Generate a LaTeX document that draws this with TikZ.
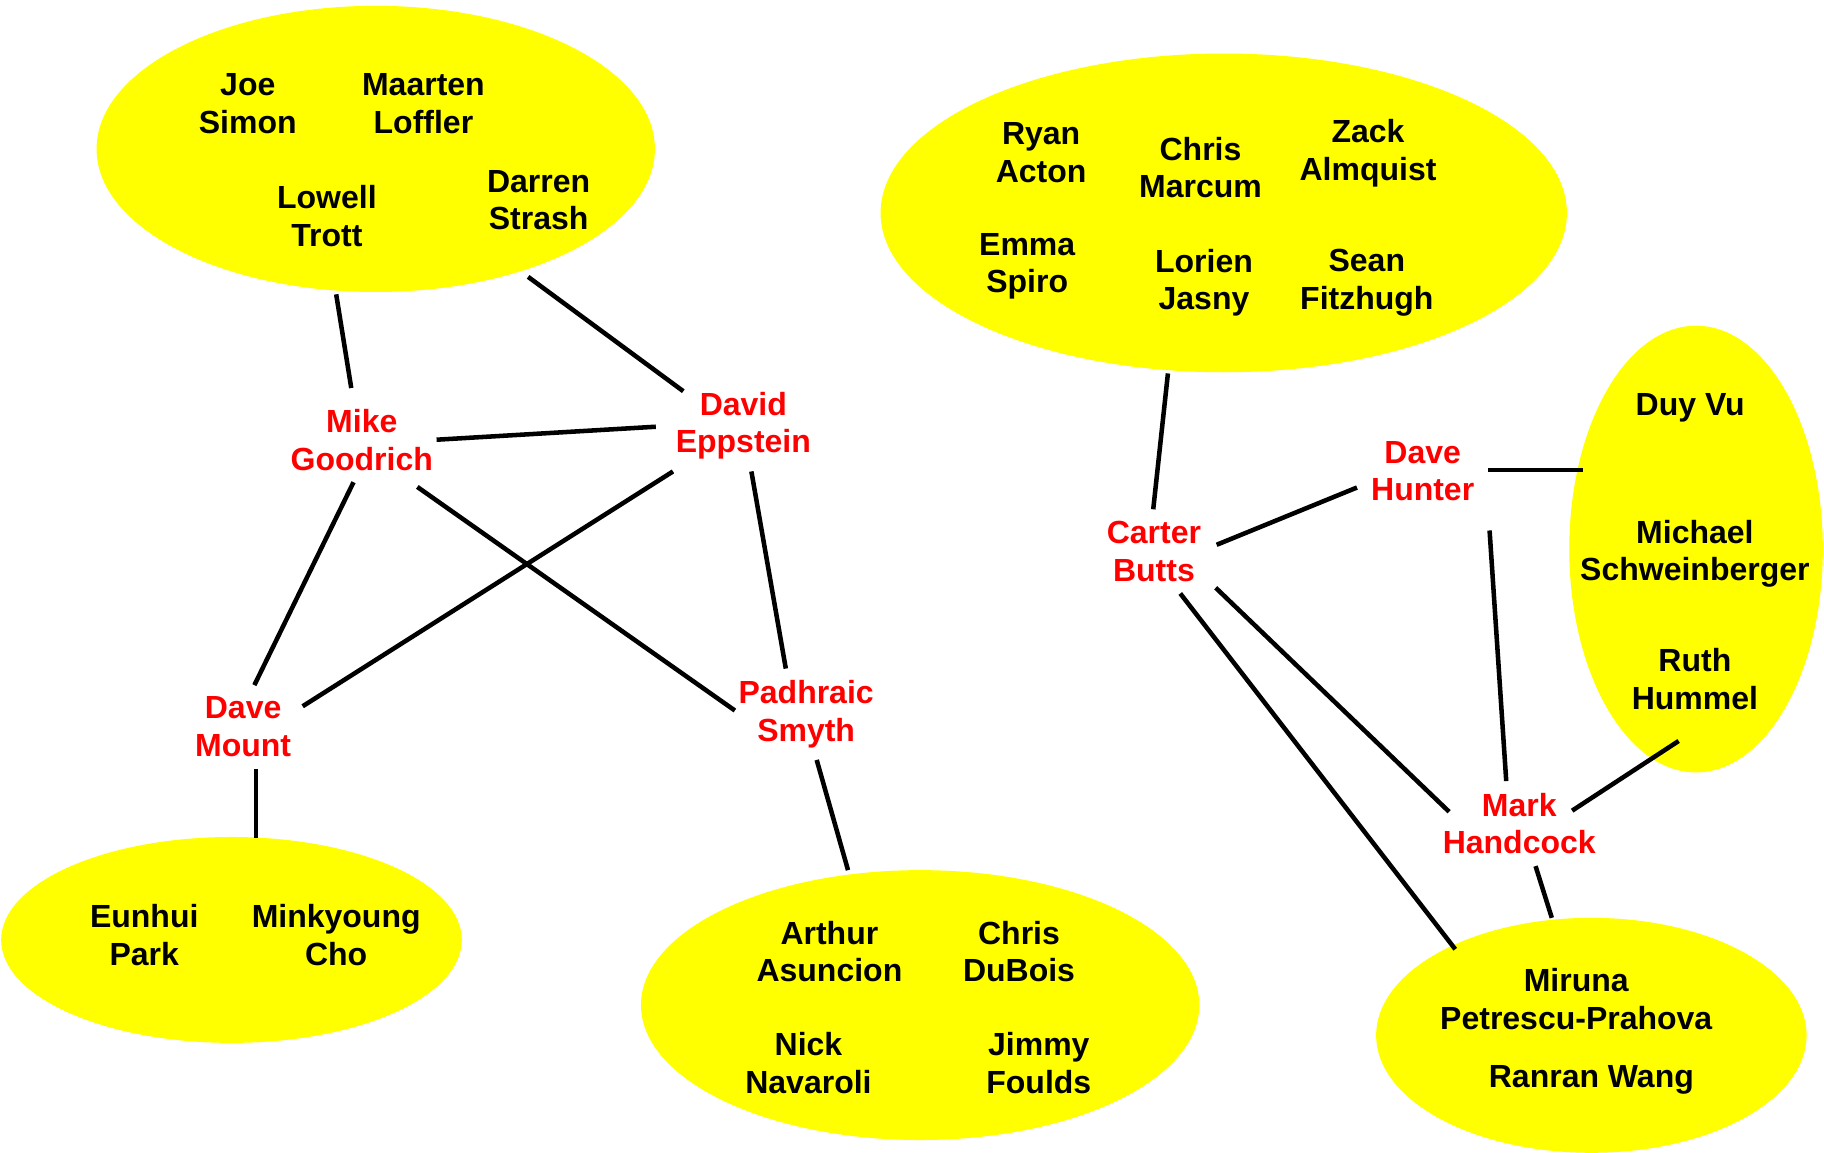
\documentclass[tikz,border=0pt]{standalone}
\usepackage{fontspec}
\setmainfont{Liberation Sans}
\usetikzlibrary{shapes.geometric}
\definecolor{grpyellow}{RGB}{255,255,0}
\definecolor{hubred}{RGB}{255,0,0}
\begin{document}
\begin{tikzpicture}[x=1pt,y=-1pt,
  blob/.style={ellipse,fill=grpyellow,draw=none,inner sep=0pt},
  person/.style={align=center,text=black,font=\bfseries\fontsize{27.5}{32.5}\selectfont},
  hub/.style={align=center,text=hubred,inner xsep=3pt,inner ysep=10pt,font=\bfseries\fontsize{27.5}{32.5}\selectfont},
  link/.style={line width=3.9pt,black}]
\useasboundingbox (0,0) rectangle (1568,991);
% groups
\node[blob,minimum width=480pt,minimum height=246pt] (e1) at (323,128) {};
\node[blob,minimum width=590pt,minimum height=274pt] (e2) at (1052,183) {};
\node[blob,minimum width=218pt,minimum height=384pt] (e3) at (1458,472) {};
\node[blob,minimum width=396pt,minimum height=177pt] (e4) at (199,808) {};
\node[blob,minimum width=480pt,minimum height=232pt] (e5) at (791,864) {};
\node[blob,minimum width=370pt,minimum height=202pt] (e6) at (1368,890) {};
% people
\node[person] (joe) at (213,89) {Joe\\Simon};
\node[person] (maarten) at (364,89) {Maarten\\Loffler};
\node[person] (lowell) at (281,186) {Lowell\\Trott};
\node[person] (darren) at (463,172) {Darren\\Strash};
\node[person] (ryan) at (895,131) {Ryan\\Acton};
\node[person] (chris) at (1032,144) {Chris\\Marcum};
\node[person] (zack) at (1176,132) {Zack\\Almquist};
\node[person] (emma) at (883,229) {Emma\\Spiro};
\node[person] (lorien) at (1035,243) {Lorien\\Jasny};
\node[person] (sean) at (1175,243) {Sean\\Fitzhugh};
\node[person] (duy) at (1453,351) {Duy Vu};
\node[person] (michael) at (1457,476) {Michael\\Schweinberger};
\node[person] (ruth) at (1457,584) {Ruth\\Hummel};
\node[person] (eunhui) at (124,804) {Eunhui\\Park};
\node[person] (minkyoung) at (289,804) {Minkyoung\\Cho};
\node[person] (arthur) at (713,818) {Arthur\\Asuncion};
\node[person] (chrisd) at (876,818) {Chris\\DuBois};
\node[person] (nick) at (695,914) {Nick\\Navaroli};
\node[person] (jimmy) at (893,914) {Jimmy\\Foulds};
\node[person] (miruna) at (1355,859) {Miruna\\Petrescu-Prahova};
\node[person] (ranran) at (1368,928) {Ranran Wang};
% hubs
\node[hub] (mike) at (311,378) {Mike\\Goodrich};
\node[hub] (david) at (639,366) {David\\Eppstein};
\node[hub] (dmount) at (209,625) {Dave\\Mount};
\node[hub] (padhraic) at (693,614) {Padhraic\\Smyth};
\node[hub] (carter) at (992,474) {Carter\\Butts};
\node[hub,inner xsep=12pt] (hunter) at (1223,405) {Dave\\Hunter};
\node[hub] (mark) at (1306,708) {Mark\\Handcock};
% connector ends on the groups
\coordinate (c1) at (289,253);
\coordinate (c2) at (454,238);
\coordinate (c3) at (220,720);
\coordinate (c4) at (729,748);
\coordinate (c5) at (1004,321);
\coordinate (c6) at (1361,404);
\coordinate (c7) at (1251,816);
\coordinate (c8) at (1443,637);
\coordinate (c9) at (1334,789);
% connectors
\draw[link,shorten >=8pt] (c1) -- (mike.102);
\draw[link,shorten >=-12pt] (c2) -- (david.149);
\draw[link,shorten >=14pt] (mike.0) -- (david.180);
\draw[link] (mike.-101) -- (dmount.75);
\draw[link,shorten <=7pt] (mike.-41) -- (padhraic.177);
\draw[link,shorten >=8pt] (david.213) -- (dmount.17);
\draw[link] (david.-80) -- (padhraic.114);
\draw[link] (dmount.south -| c3) -- (c3);
\draw[link] (padhraic.-77) -- (c4);
\draw[link] (c5) -- (carter.91);
\draw[link,shorten <=11pt] (carter.2) -- (hunter.194);
\draw[link] (hunter.east |- c6) -- (c6);
\draw[link,shorten <=13pt,shorten >=-12pt] (carter.-27) -- (mark.165);
\draw[link] (carter.-58) -- (c7);
\draw[link,shorten <=15pt] (hunter.south east) -- (mark.107);
\draw[link,shorten <=-28pt] (mark.21) -- (c8);
\draw[link] (mark.-69) -- (c9);
\end{tikzpicture}
\end{document}
